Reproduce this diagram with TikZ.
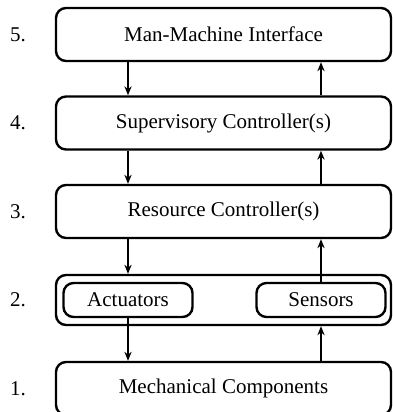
\documentclass[tikz,border=0pt]{standalone}
\usepackage{fontspec}
\setmainfont{Liberation Serif}
\usetikzlibrary{arrows.meta}

\begin{document}
\begin{tikzpicture}[
  x=0.5pt, y=-0.5pt,
  every node/.style={font=\fontsize{10.5}{12.6}\selectfont},
  lbox/.style={rectangle, rounded corners=5pt, draw, line width=1.2pt, minimum width=167.5pt, minimum height=26.5pt, align=center, inner sep=0pt},
  gbox/.style={lbox, minimum height=25pt},
  sbox/.style={rectangle, rounded corners=5pt, draw, line width=1.2pt, minimum width=64.5pt, minimum height=17pt, align=center, inner sep=0pt},
  num/.style={inner sep=0pt},
  flow/.style={-{Stealth[length=4.5pt, width=3.6pt]}, line width=0.8pt},
]
\clip (0,0) rectangle (392,412);

% Levels
\node[lbox] (b5) at (223.5, 34.5) {Man-Machine Interface};
\node[lbox] (b4) at (223.5, 123) {Supervisory Controller(s)};
\node[lbox] (b3) at (223.5, 211.5) {Resource Controller(s)};
\node[gbox] (b2) at (223.5, 300) {};
\node[lbox] (b1) at (223.5, 388.5) {Mechanical Components};

% Devices
\node[sbox] (act) at (128, 300) {Actuators};
\node[sbox] (sen) at (321, 300) {Sensors};

% Level numbers
\node[num] (n5) at (18, 34.5) {5.};
\node[num] (n4) at (18, 123) {4.};
\node[num] (n3) at (18, 211.5) {3.};
\node[num] (n2) at (18, 300) {2.};
\node[num] (n1) at (18, 388.5) {1.};

% Commands down
\draw[flow] (b5.south -| act.center) -- (b4.north -| act.center);
\draw[flow] (b4.south -| act.center) -- (b3.north -| act.center);
\draw[flow] (b3.south -| act.center) -- (b2.north -| act.center);
\draw[flow] (act.south) -- (b1.north -| act.center);

% Feedback up
\draw[flow] (b4.north -| sen.center) -- (b5.south -| sen.center);
\draw[flow] (b3.north -| sen.center) -- (b4.south -| sen.center);
\draw[flow] (sen.north) -- (b3.south -| sen.center);
\draw[flow] (b1.north -| sen.center) -- (b2.south -| sen.center);

\end{tikzpicture}
\end{document}
